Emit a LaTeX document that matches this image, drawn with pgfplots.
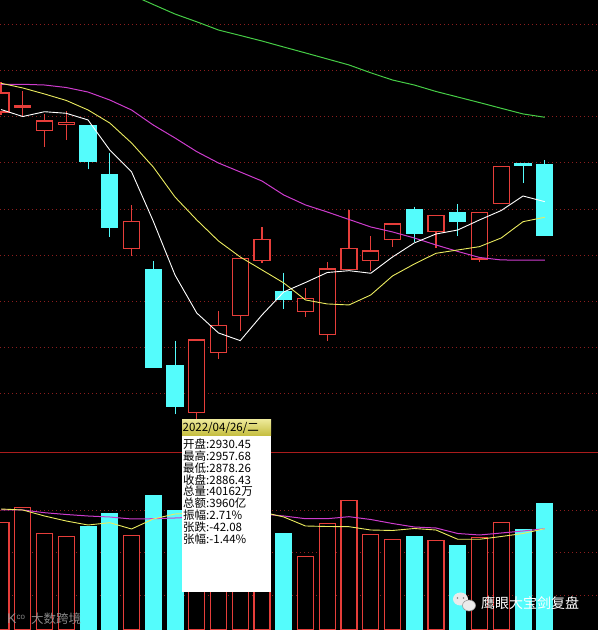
\documentclass[border=0pt]{standalone}
\usepackage{pgfplots}
\pgfplotsset{compat=1.18}
\usepackage{pgfplotstable}
\usepgfplotslibrary{statistics}
\usepackage{fontspec}
\setmainfont{Liberation Sans}
\newfontfamily\cjk{Noto Sans CJK SC}

\definecolor{kred}{RGB}{230,62,58}
\definecolor{kcyan}{RGB}{84,252,252}
\definecolor{gridred}{RGB}{140,30,30}
\definecolor{sepred}{RGB}{170,28,28}
\definecolor{mamag}{RGB}{205,60,205}
\definecolor{mayel}{RGB}{235,235,95}
\definecolor{magrn}{RGB}{70,205,70}

% daily candles: open high low close
\pgfplotstableread{
i open high low close
0 3205.1 3237.6 3201.9 3225.7
1 3210.0 3228.2 3201.1 3211.6
2 3184.9 3203.0 3167.6 3195.4
3 3191.8 3206.2 3174.8 3194.0
4 3190.0 3190.0 3143.1 3151.3
5 3138.0 3161.1 3070.2 3079.9
6 3057.2 3104.5 3049.6 3086.8
7 3034.2 3043.9 2928.4 2928.4
8 2930.45 2957.68 2878.26 2886.43
9 2880.0 2958.5 2863.65 2958.28
10 2944.7 2989.8 2937.5 2974.3
11 2984.7 3046.8 2968.5 3046.8
12 3044.2 3080.7 3042.1 3067.4
13 3011.4 3031.2 2992.0 3001.7
14 2989.0 3014.7 2983.6 3003.5
15 2964.6 3042.5 2957.7 3035.2
16 3034.9 3099.1 3034.7 3057.6
17 3044.6 3070.9 3033.4 3054.7
18 3067.4 3085.5 3059.4 3083.9
19 3099.8 3102.6 3064.8 3073.9
20 3076.0 3093.3 3057.6 3093.3
21 3096.1 3105.6 3070.9 3086.4
22 3046.1 3096.6 3043.1 3096.6
23 3106.3 3145.9 3106.3 3145.9
24 3149.6 3149.6 3128.0 3147.0
25 3148.8 3153.2 3071.3 3071.3
}\candles

% moving averages of the price
\pgfplotstableread{
i ma5 ma10 ma20
0 3207.8 3236.2 3234.9
1 3200.2 3231.1 3235.1
2 3205.4 3224.6 3234.3
3 3203.7 3217.6 3231.6
4 3196.5 3207.3 3226.7
5 3164.0 3193.2 3218.1
6 3140.5 3171.6 3207.3
7 3087.0 3145.6 3191.0
8 3028.7 3113.1 3177.0
9 2987.6 3088.3 3162.2
10 2966.0 3065.5 3149.9
11 2957.7 3048.2 3140.2
12 2985.5 3034.2 3130.4
13 3010.4 3020.1 3115.3
14 3020.6 3001.7 3104.5
15 3031.4 2997.4 3096.9
16 3033.4 2996.3 3088.8
17 3030.6 3007.1 3080.7
18 3048.2 3027.7 3075.3
19 3063.4 3040.6 3068.8
20 3073.1 3052.2 3061.2
21 3077.4 3055.8 3054.2
22 3088.3 3059.4 3047.7
23 3098.5 3068.8 3045.0
24 3114.2 3086.4 3044.8
25 3108.1 3091.2 3044.7
}\mas

\pgfplotstableread{
i ma60
6 3331.9
7 3321.4
8 3311.1
9 3302.7
10 3293.8
11 3287.9
12 3281.9
13 3275.4
14 3269.0
15 3262.5
16 3256.0
17 3247.5
18 3239.7
19 3234.3
20 3227.3
21 3221.3
22 3215.3
23 3209.1
24 3203.0
25 3199.4
}\maslow

% volume (wan) with direction and volume MAs
\pgfplotstableread{
i vol up vma5 vma10
0 37154 1 40403 40166
1 40806 1 40166 40166
2 34639 1 38743 39526
3 33833 1 37557 39099
4 36134 0 36608 38743
5 39217 0 37154 38506
6 34165 1 35659 38031
7 43487 0 38031 38102
8 40162 0 39217 38268
9 41000 1 39454 38506
10 38000 1 39692 38743
11 40000 1 39692 38980
12 38500 1 39692 39217
13 34474 0 38506 38743
14 29184 1 36371 38102
15 37011 1 36252 38102
16 42467 1 36205 38577
17 34403 1 35422 37913
18 33216 1 35303 36964
19 33762 0 35778 36134
20 32979 1 35422 35896
21 31627 0 33216 34592
22 33596 1 33216 34236
23 37248 1 33880 34710
24 35422 0 34592 35185
25 41589 0 35730 35730
}\vols

\pgfplotsset{
  upc/.style={draw=kred, fill=black, line width=1.2bp},
  downc/.style={draw=kcyan, fill=kcyan, line width=1bp},
  kbase/.style={
    scale only axis, width=598bp,
    xmin=-0.046, xmax=27.448,
    axis line style={draw=none}, tick style={draw=none},
    xtick=\empty, yticklabels={},
    ymajorgrids,
    grid style={gridred, line width=1bp, dash pattern=on 1bp off 3bp},
    boxplot/draw direction=y,
    boxplot/box extend=0.74,
    boxplot/whisker extend=0,
  },
}

\begin{document}
\begin{tikzpicture}
\useasboundingbox (0,0) rectangle (598bp,630bp);
\fill[black] (0,0) rectangle (598bp,630bp);

% price panel
\begin{axis}[kbase, anchor=north west, at={(0bp,630bp)}, height=452bp,
  ymin=2837.2, ymax=3326.29, ytick={2900,2950,...,3300}]
\pgfplotsinvokeforeach{0,...,25}{%
  \pgfplotstablegetelem{#1}{open}\of\candles \let\kOpen\pgfplotsretval
  \pgfplotstablegetelem{#1}{close}\of\candles \let\kClose\pgfplotsretval
  \pgfplotstablegetelem{#1}{high}\of\candles \let\kHigh\pgfplotsretval
  \pgfplotstablegetelem{#1}{low}\of\candles \let\kLow\pgfplotsretval
  \pgfmathsetmacro\kLo{min(\kOpen,\kClose)}%
  \pgfmathsetmacro\kHi{max(\kOpen,\kClose)}%
  \ifdim\kClose pt<\kOpen pt \def\kStyle{downc}\else\def\kStyle{upc}\fi
  \edef\kCmd{\noexpand\addplot[\kStyle, boxplot prepared={draw position=#1,
    lower whisker=\kLow, lower quartile=\kLo, median=\kLo,
    upper quartile=\kHi, upper whisker=\kHigh}] coordinates {};}%
  \kCmd
}
\addplot[magrn, line width=1bp] table[x=i, y=ma60]{\maslow};
\addplot[mamag, line width=1bp] table[x=i, y=ma20]{\mas};
\addplot[mayel, line width=0.9bp] table[x=i, y=ma10]{\mas};
\addplot[white, line width=0.9bp] table[x=i, y=ma5]{\mas};
\end{axis}

% volume panel
\begin{axis}[kbase, anchor=north west, at={(0bp,177bp)}, height=177bp,
  ymin=11702, ymax=53686, ytick={20000,30000,40000}]
\addplot[ybar, bar width=16bp, bar shift=0pt, draw=kred, fill=black, line width=1.2bp,
  restrict expr to domain={\thisrow{up}}{0.5:1.5}] table[x=i, y=vol]{\vols};
\addplot[ybar, bar width=16bp, bar shift=0pt, draw=kcyan, fill=kcyan, line width=1bp,
  restrict expr to domain={\thisrow{up}}{-0.5:0.5}] table[x=i, y=vol]{\vols};
\addplot[mamag, line width=1bp] table[x=i, y=vma10]{\vols};
\addplot[mayel, line width=0.9bp] table[x=i, y=vma5]{\vols};
\end{axis}

\draw[sepred, line width=1bp] (0,177bp) -- (598bp,177bp);

% tooltip
\fill[white] (182bp,37.5bp) rectangle (271bp,210bp);
\shade[top color={rgb,255:red,236;green,232;blue,150}, bottom color={rgb,255:red,196;green,188;blue,60}]
  (182bp,194bp) rectangle (271bp,210bp);
\node[anchor=west, inner sep=0pt, font=\cjk\fontsize{11.5bp}{12bp}\selectfont] at (182.5bp,201.7bp) {2022/04/26/二};
\begin{scope}[every node/.style={anchor=west, inner sep=0pt, text=black, font=\cjk\fontsize{11.5bp}{12bp}\selectfont}]
\node at (183bp,186bp) {开盘:2930.45};
\node at (183bp,174.1bp) {最高:2957.68};
\node at (183bp,162.2bp) {最低:2878.26};
\node at (183bp,150.3bp) {收盘:2886.43};
\node at (183bp,138.4bp) {总量:40162万};
\node at (183bp,126.5bp) {总额:3960亿};
\node at (183bp,114.6bp) {振幅:2.71\%};
\node at (183bp,102.7bp) {张跌:-42.08};
\node at (183bp,90.8bp) {张幅:-1.44\%};
\end{scope}

% watermarks
\fill[white!92!black] (460.5bp,31bp) ellipse (7.5bp and 6.5bp);
\fill[white!92!black, draw=black!40, line width=0.6bp] (469bp,24.5bp) ellipse (6.5bp and 5.5bp);
\fill[black!50] (457.5bp,32bp) circle (0.9bp) (463.5bp,32bp) circle (0.9bp);
\node[anchor=west, inner sep=0pt, text=white, font=\cjk\fontsize{14bp}{14bp}\selectfont] at (481bp,26.5bp) {鹰眼大宝剑复盘};
\node[anchor=west, inner sep=0pt, text=white!62!black, opacity=0.85, font=\fontsize{14bp}{14bp}\selectfont] at (7bp,11bp) {K\raisebox{4bp}{\fontsize{8bp}{8bp}\selectfont co}};
\node[anchor=west, inner sep=0pt, text=white!62!black, opacity=0.85, font=\cjk\fontsize{12.5bp}{12.5bp}\selectfont] at (31bp,11bp) {大数跨境};
\end{tikzpicture}
\end{document}
